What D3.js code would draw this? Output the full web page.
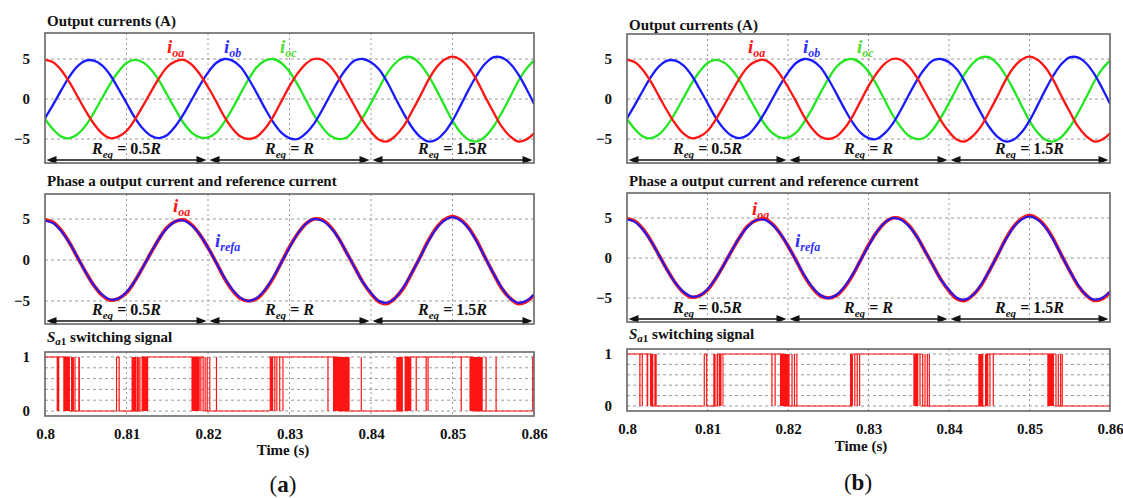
<!DOCTYPE html>
<html>
<head>
<meta charset="utf-8">
<script src="https://cdn.jsdelivr.net/npm/d3@7/dist/d3.min.js"></script>
<style>
  body { margin: 0; background: #fff; }
  svg text { font-family: "Liberation Serif", "Times New Roman", serif; font-weight: bold; fill: #111; }
</style>
</head>
<body>
<svg id="chart" width="1123" height="498"></svg>
<script>
// ---- data (1 ms samples) ----
const time = [0.800, 0.801, 0.802, 0.803, 0.804, 0.805, 0.806, 0.807, 0.808, 0.809,
              0.810, 0.811, 0.812, 0.813, 0.814, 0.815, 0.816, 0.817, 0.818, 0.819,
              0.820, 0.821, 0.822, 0.823, 0.824, 0.825, 0.826, 0.827, 0.828, 0.829,
              0.830, 0.831, 0.832, 0.833, 0.834, 0.835, 0.836, 0.837, 0.838, 0.839,
              0.840, 0.841, 0.842, 0.843, 0.844, 0.845, 0.846, 0.847, 0.848, 0.849,
              0.850, 0.851, 0.852, 0.853, 0.854, 0.855, 0.856, 0.857, 0.858, 0.859, 0.860];

const ioa = [4.9, 4.6, 3.6, 2.1, 0.3, -1.5, -3.1, -4.3, -4.9, -4.7,
             -4.0, -2.6, -0.9, 0.9, 2.6, 4.0, 4.7, 4.9, 4.3, 3.1,
             1.5, -0.3, -2.2, -3.7, -4.7, -5.0, -4.7, -3.7, -2.2, -0.3,
             1.6, 3.2, 4.4, 5.0, 4.9, 4.1, 2.7, 0.9, -0.9, -2.7,
             -4.1, -5.1, -5.3, -4.6, -3.4, -1.6, 0.3, 2.3, 3.9, 4.9,
             5.3, 4.9, 3.9, 2.3, 0.3, -1.6, -3.4, -4.6, -5.3, -5.1, -4.3];

const iob = [-2.4, -0.7, 1.1, 2.8, 4.1, 4.8, 4.8, 4.2, 3.0, 1.3,
             -0.5, -2.3, -3.7, -4.6, -4.9, -4.5, -3.4, -1.9, -0.1, 1.7,
             3.3, 4.5, 5.0, 4.8, 4.0, 2.5, 0.7, -1.2, -2.9, -4.2,
             -4.9, -5.0, -4.3, -3.1, -1.4, 0.5, 2.3, 3.8, 4.8, 5.0,
             4.6, 3.7, 2.1, 0.1, -1.8, -3.5, -4.7, -5.3, -5.1, -4.2,
             -2.7, -0.8, 1.2, 3.0, 4.4, 5.2, 5.2, 4.5, 3.2, 1.4, -0.6];

const ioc = [-2.5, -3.8, -4.7, -4.9, -4.4, -3.3, -1.7, 0.1, 1.9, 3.4,
             4.5, 4.9, 4.6, 3.7, 2.3, 0.5, -1.3, -3.0, -4.2, -4.8,
             -4.8, -4.2, -2.9, -1.2, 0.7, 2.5, 4.0, 4.8, 5.0, 4.5,
             3.4, 1.8, -0.1, -2.0, -3.5, -4.6, -5.0, -4.8, -3.8, -2.3,
             -0.5, 1.4, 3.2, 4.5, 5.2, 5.2, 4.4, 3.0, 1.2, -0.8,
             -2.7, -4.2, -5.1, -5.3, -4.7, -3.5, -1.8, 0.1, 2.1, 3.7, 4.8];

const irefa = [4.8, 4.5, 3.5, 2.1, 0.3, -1.5, -3.1, -4.2, -4.8, -4.7,
               -3.9, -2.6, -0.9, 0.9, 2.6, 3.9, 4.7, 4.8, 4.2, 3.1,
               1.5, -0.3, -2.1, -3.6, -4.6, -5.0, -4.6, -3.6, -2.1, -0.3,
               1.5, 3.2, 4.4, 5.0, 4.8, 4.0, 2.7, 0.9, -0.9, -2.7,
               -4.0, -5.0, -5.2, -4.6, -3.3, -1.6, 0.3, 2.2, 3.8, 4.8,
               5.2, 4.8, 3.8, 2.2, 0.3, -1.6, -3.3, -4.6, -5.2, -5.0, -4.2];

// switching signal S_a1: steady levels [t0, t1, level], dense bursts [t0, t1], single edges
const swLevelsA = [[0.8000, 0.8030, 1], [0.8030, 0.8088, 0], [0.8088, 0.8091, 1], [0.8091, 0.8118, 0],
                   [0.8118, 0.8195, 1], [0.8195, 0.8275, 0], [0.8275, 0.8360, 1], [0.8360, 0.8440, 0],
                   [0.8440, 0.8525, 1], [0.8525, 0.8598, 0], [0.8598, 0.8600, 1]];
const swBandsA = [[0.80143, 0.80175], [0.80224, 0.80306], [0.80319, 0.80355], [0.80409, 0.80429],
                  [0.81062, 0.81123], [0.81185, 0.81266], [0.81797, 0.81899], [0.82757, 0.82800],
                  [0.83533, 0.83738], [0.84310, 0.84391], [0.84412, 0.84494], [0.85208, 0.85371]];
const swEdgesA = [0.80368, 0.80878, 0.80910, 0.81135, 0.81150, 0.81165, 0.81912, 0.81940, 0.81965,
                  0.81990, 0.82022, 0.82104, 0.82820, 0.82845, 0.82880, 0.82920, 0.83472, 0.83881,
                  0.84555, 0.84677, 0.84700, 0.85107, 0.85412, 0.85535, 0.85984];

const swLevelsB = [[0.8000, 0.8030, 1], [0.8030, 0.8096, 0], [0.8096, 0.8099, 1], [0.8099, 0.8112, 0],
                   [0.8112, 0.8195, 1], [0.8195, 0.8280, 0], [0.8280, 0.8366, 1], [0.8366, 0.8446, 0],
                   [0.8446, 0.8532, 1], [0.8532, 0.8600, 0]];
const swBandsB = [[0.80244, 0.80264], [0.80286, 0.80327], [0.80340, 0.80369],
                  [0.81072, 0.81101], [0.81113, 0.81133], [0.81141, 0.81174], [0.81186, 0.81194],
                  [0.81900, 0.82020], [0.82770, 0.82807],
                  [0.83557, 0.83619], [0.84364, 0.84426], [0.84447, 0.84488], [0.85221, 0.85304]];
const swEdgesB = [0.8016, 0.8019, 0.8096, 0.8099, 0.8180, 0.8184, 0.8205, 0.8208, 0.8211,
                  0.8283, 0.8286, 0.8289, 0.83640, 0.83673, 0.83702, 0.83731, 0.83756,
                  0.84509, 0.84550, 0.85329, 0.85358, 0.85387, 0.85407];

const timeTicks = [0.8, 0.81, 0.82, 0.83, 0.84, 0.85, 0.86];
const currentTicks = [-5, 0, 5];
const switchTicks = [0, 1];
const switchGrid = [0, 0.2, 0.4, 0.6, 0.8, 1];
const reqSpans = [[0.80, 0.82], [0.82, 0.84], [0.84, 0.86]];
const reqFactors = ["0.5", "", "1.5"];
const phaseNames = ["oa", "ob", "oc"];
const phaseColors = ["#ff1414", "#1a1aff", "#22e622"];
const labelColors = ["#ff1414", "#3030ff", "#55dd33"];

const layout = [
  { key: "a", x0: 45, x1: 534, caption: [283, 492], timeLabel: [283, 455],
    top: { frame: [33, 163], y0: 99, y5: 59, title: 26, arrowY: 160 },
    mid: { frame: [194, 324], y0: 260, y5: 219, title: 186, arrowY: 321 },
    sw:  { frame: [352, 416], y0: 411, y1: 357, title: 342 },
    topLabels: [[167, 53], [224, 53], [280, 53]],
    midLabels: [[173, 212], [215, 247]],
    levels: swLevelsA, bands: swBandsA, edges: swEdgesA },
  { key: "b", x0: 627, x1: 1110, caption: [858, 490], timeLabel: [861, 451],
    top: { frame: [34, 163], y0: 99, y5: 59, title: 30, arrowY: 160 },
    mid: { frame: [193, 322], y0: 258, y5: 218, title: 186, arrowY: 319 },
    sw:  { frame: [349, 411], y0: 406, y1: 354, title: 339 },
    topLabels: [[748, 53], [803, 53], [857, 53]],
    midLabels: [[752, 215], [795, 247]],
    levels: swLevelsB, bands: swBandsB, edges: swEdgesB }
];

const svg = d3.select("#chart");
const defs = svg.append("defs");

function clip(id, x0, x1, t, b) {
  defs.append("clipPath").attr("id", id).append("rect")
    .attr("x", x0).attr("y", t).attr("width", x1 - x0).attr("height", b - t);
  return "url(#" + id + ")";
}

function grid(g, x, y, yVals, x0, x1, t, b) {
  g.append("g").selectAll("line").data(timeTicks.slice(1, -1)).join("line")
    .attr("x1", d => x(d)).attr("x2", d => x(d)).attr("y1", t).attr("y2", b)
    .attr("stroke", "#999").attr("stroke-width", 1).attr("stroke-dasharray", "2,3");
  g.append("g").selectAll("line").data(yVals).join("line")
    .attr("x1", x0).attr("x2", x1).attr("y1", d => y(d)).attr("y2", d => y(d))
    .attr("stroke", "#999").attr("stroke-width", 1).attr("stroke-dasharray", "3,3");
}

function frame(g, x0, x1, t, b) {
  g.append("rect").attr("x", x0).attr("y", t).attr("width", x1 - x0).attr("height", b - t)
    .attr("fill", "none").attr("stroke", "#666").attr("stroke-width", 1.6);
}

function yAxis(g, y, ticks, x0) {
  const ax = g.append("g").attr("transform", `translate(${x0},0)`)
    .call(d3.axisLeft(y).tickValues(ticks).tickSize(0).tickPadding(15).tickFormat(d3.format("d")));
  ax.select(".domain").remove();
  ax.attr("font-family", null).attr("font-size", 15);
  ax.selectAll("text").attr("fill", "#111");
}

function title(g, x, yb, parts) {
  const t = g.append("text").attr("x", x).attr("y", yb).attr("font-size", 15);
  parts.forEach(p => {
    const s = t.append("tspan").text(p.text);
    if (p.italic) s.attr("font-style", "italic");
    if (p.size) s.attr("font-size", p.size);
    if (p.dy) s.attr("dy", p.dy);
  });
}

function currentLabel(g, pos, sub, color) {
  const t = g.append("text").attr("x", pos[0]).attr("y", pos[1])
    .attr("font-style", "italic").style("fill", color);
  t.append("tspan").attr("font-size", 19).text("i");
  t.append("tspan").attr("font-size", 12).attr("dy", 4).text(sub);
}

function reqArrows(g, x, yA) {
  reqSpans.forEach((s, i) => {
    const a = x(s[0]) + 1.5, b = x(s[1]) - 1.5;
    g.append("line").attr("x1", a + 6).attr("x2", b - 6).attr("y1", yA).attr("y2", yA)
      .attr("stroke", "#111").attr("stroke-width", 1.4);
    g.append("path").attr("d", `M${a},${yA}L${a + 10},${yA - 4}L${a + 10},${yA + 4}Z`).attr("fill", "#111");
    g.append("path").attr("d", `M${b},${yA}L${b - 10},${yA - 4}L${b - 10},${yA + 4}Z`).attr("fill", "#111");
    const t = g.append("text").attr("x", (x(s[0]) + x(s[1])) / 2).attr("y", yA - 6)
      .attr("text-anchor", "middle").attr("font-size", 16);
    t.append("tspan").attr("font-style", "italic").text("R");
    t.append("tspan").attr("font-style", "italic").attr("font-size", 11).attr("dy", 4).text("eq");
    t.append("tspan").attr("dy", -4).text(" = " + reqFactors[i]);
    t.append("tspan").attr("font-style", "italic").text("R");
  });
}

layout.forEach(L => {
  const g = svg.append("g");
  const x = d3.scaleLinear().domain([0.8, 0.86]).range([L.x0, L.x1]);
  const rows = time.map((t, i) => ({ t, a: ioa[i], b: iob[i], c: ioc[i], r: irefa[i] }));

  // ---- output currents ----
  const P = L.top;
  const y1 = d3.scaleLinear().domain([0, 5]).range([P.y0, P.y5]);
  title(g, L.x0 + 2, P.title, [{ text: "Output currents (A)" }]);
  grid(g, x, y1, currentTicks, L.x0, L.x1, P.frame[0], P.frame[1]);
  const c1 = clip("clipTop" + L.key, L.x0, L.x1, P.frame[0], P.frame[1]);
  const lines1 = g.append("g").attr("clip-path", c1);
  ["c", "b", "a"].forEach(k => {
    const idx = { a: 0, b: 1, c: 2 }[k];
    lines1.append("path").datum(rows)
      .attr("d", d3.line().x(d => x(d.t)).y(d => y1(d[k])).curve(d3.curveCatmullRom))
      .attr("fill", "none").attr("stroke", phaseColors[idx]).attr("stroke-width", 2.3);
  });
  reqArrows(g, x, P.arrowY);
  frame(g, L.x0, L.x1, P.frame[0], P.frame[1]);
  yAxis(g, y1, currentTicks, L.x0);
  phaseNames.forEach((n, i) => currentLabel(g, L.topLabels[i], n, labelColors[i]));

  // ---- phase a current and reference ----
  const M = L.mid;
  const y2 = d3.scaleLinear().domain([0, 5]).range([M.y0, M.y5]);
  title(g, L.x0 + 2, M.title, [{ text: "Phase a output current and reference current" }]);
  grid(g, x, y2, currentTicks, L.x0, L.x1, M.frame[0], M.frame[1]);
  const c2 = clip("clipMid" + L.key, L.x0, L.x1, M.frame[0], M.frame[1]);
  const lines2 = g.append("g").attr("clip-path", c2);
  lines2.append("path").datum(rows)
    .attr("d", d3.line().x(d => x(d.t)).y(d => y2(d.a)).curve(d3.curveCatmullRom))
    .attr("fill", "none").attr("stroke", phaseColors[0]).attr("stroke-width", 3.6);
  lines2.append("path").datum(rows)
    .attr("d", d3.line().x(d => x(d.t)).y(d => y2(d.r)).curve(d3.curveCatmullRom))
    .attr("fill", "none").attr("stroke", "#1a1aff").attr("stroke-width", 2);
  reqArrows(g, x, M.arrowY);
  frame(g, L.x0, L.x1, M.frame[0], M.frame[1]);
  yAxis(g, y2, currentTicks, L.x0);
  currentLabel(g, L.midLabels[0], "oa", labelColors[0]);
  currentLabel(g, L.midLabels[1], "refa", labelColors[1]);

  // ---- switching signal ----
  const S = L.sw;
  const y3 = d3.scaleLinear().domain([0, 1]).range([S.y0, S.y1]);
  title(g, L.x0 + 2, S.title, [{ text: "S", italic: true }, { text: "a", italic: true, size: 11, dy: 3 },
    { text: "1", size: 11 }, { text: " switching signal", dy: -3 }]);
  grid(g, x, y3, switchGrid, L.x0, L.x1, S.frame[0], S.frame[1]);
  const sig = g.append("g").attr("clip-path", clip("clipSw" + L.key, L.x0, L.x1, S.frame[0], S.frame[1]));
  sig.selectAll("line.lvl").data(L.levels).join("line").attr("class", "lvl")
    .attr("x1", d => x(d[0])).attr("x2", d => x(d[1])).attr("y1", d => y3(d[2])).attr("y2", d => y3(d[2]))
    .attr("stroke", "#ff1414").attr("stroke-width", 1.1);
  sig.selectAll("rect").data(L.bands).join("rect")
    .attr("x", d => x(d[0])).attr("width", d => Math.max(1, x(d[1]) - x(d[0])))
    .attr("y", y3(1)).attr("height", y3(0) - y3(1)).attr("fill", "#ff1414");
  sig.selectAll("line.edge").data(L.edges).join("line").attr("class", "edge")
    .attr("x1", d => x(d)).attr("x2", d => x(d)).attr("y1", y3(1)).attr("y2", y3(0))
    .attr("stroke", "#ff1414").attr("stroke-width", 1.2);
  frame(g, L.x0, L.x1, S.frame[0], S.frame[1]);
  yAxis(g, y3, switchTicks, L.x0);

  const xa = g.append("g").attr("transform", `translate(0,${S.frame[1]})`)
    .call(d3.axisBottom(x).tickValues(timeTicks).tickSize(0).tickPadding(12).tickFormat(d3.format(".2~f")));
  xa.select(".domain").remove();
  xa.attr("font-family", null).attr("font-size", 15);
  xa.selectAll("text").attr("fill", "#111");

  g.append("text").attr("x", L.timeLabel[0]).attr("y", L.timeLabel[1])
    .attr("text-anchor", "middle").attr("font-size", 15).text("Time (s)");

  const cap = g.append("text").attr("x", L.caption[0]).attr("y", L.caption[1])
    .attr("text-anchor", "middle").attr("font-size", 23).style("font-weight", "normal");
  cap.append("tspan").text("(");
  cap.append("tspan").style("font-weight", "bold").text(L.key);
  cap.append("tspan").text(")");
});
</script>
</body>
</html>
